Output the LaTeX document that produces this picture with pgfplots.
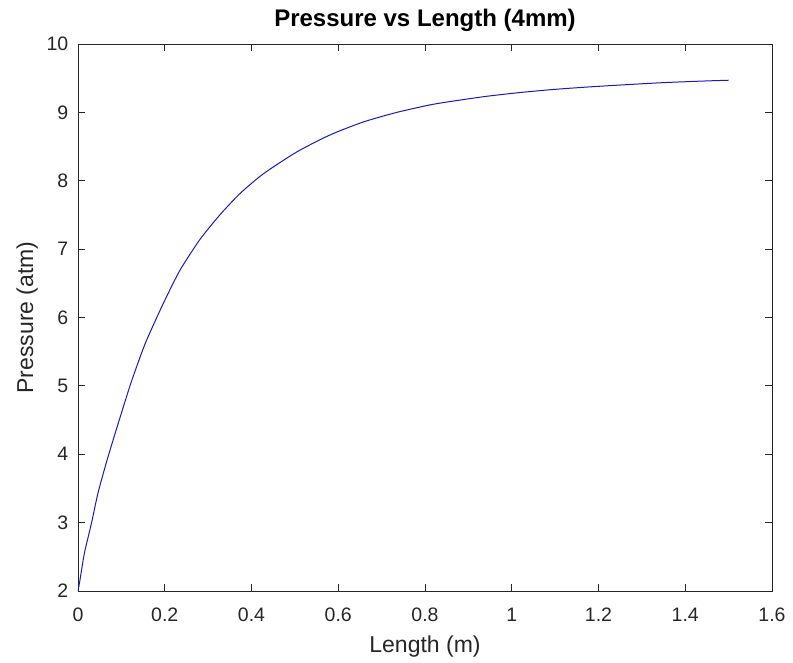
\documentclass[border=0pt]{standalone}
\usepackage{pgfplots}
\pgfplotsset{compat=1.18}
\usepackage{fontspec}
\setmainfont{Liberation Sans}
\definecolor{axgray}{RGB}{38,38,38}
\definecolor{lineblue}{RGB}{25,25,190}
\begin{document}
\begin{tikzpicture}
\begin{axis}[
  name=ax,
  at={(0,0)}, anchor=south west,
  scale only axis,
  width=694pt, height=547pt,
  xmin=0, xmax=1.6, ymin=2, ymax=10,
  xtick={0,0.2,...,1.6}, ytick={2,3,...,10},
  tick align=inside,
  major tick length=7pt,
  xtick pos=both, ytick pos=both,
  axis line style={axgray, line width=0.9pt},
  every tick/.style={axgray, line width=0.9pt},
  tick label style={font=\fontsize{19.5}{22}\selectfont, text=axgray},
  xticklabel style={anchor=base, yshift=-31pt, /pgf/number format/precision=1},
  yticklabel style={anchor=east, inner sep=0pt, xshift=-9.5pt},
  /pgf/number format/assume math mode=true,
  /pgf/number format/fixed,
  title={\textbf{Pressure vs Length (4mm)}},
  title style={font=\fontsize{24}{26}\selectfont, at={(axis description cs:0.5,1)}, anchor=base, yshift=11pt, inner sep=0pt},
  xlabel={Length (m)},
  ylabel={Pressure (atm)},
  label style={font=\fontsize{23}{25}\selectfont, text=axgray},
  xlabel style={at={(axis description cs:0.5,0)}, anchor=base, yshift=-62pt, inner sep=0pt},
  ylabel style={at={(axis description cs:-0.0648,0.5)}, anchor=base, inner sep=0pt},
]
\addplot[lineblue, line width=1pt, smooth, tension=0.4] coordinates {
(0,2.0) (0.004,2.14) (0.015,2.56) (0.031,2.99) (0.046,3.43) (0.065,3.87)
(0.081,4.21) (0.100,4.60) (0.123,5.06) (0.155,5.62) (0.197,6.21)
(0.235,6.69) (0.281,7.14) (0.327,7.50) (0.373,7.81) (0.427,8.10)
(0.504,8.42) (0.581,8.67) (0.658,8.86) (0.735,9.00) (0.812,9.11)
(0.865,9.165) (0.942,9.235) (1.019,9.29) (1.096,9.335) (1.173,9.37)
(1.25,9.40) (1.35,9.435) (1.45,9.46) (1.50,9.47)
};
\end{axis}
\pgfresetboundingbox
\path ([shift={(-78pt,-72pt)}]ax.south west) rectangle ([shift={(21pt,44pt)}]ax.north east);
\end{tikzpicture}
\end{document}
